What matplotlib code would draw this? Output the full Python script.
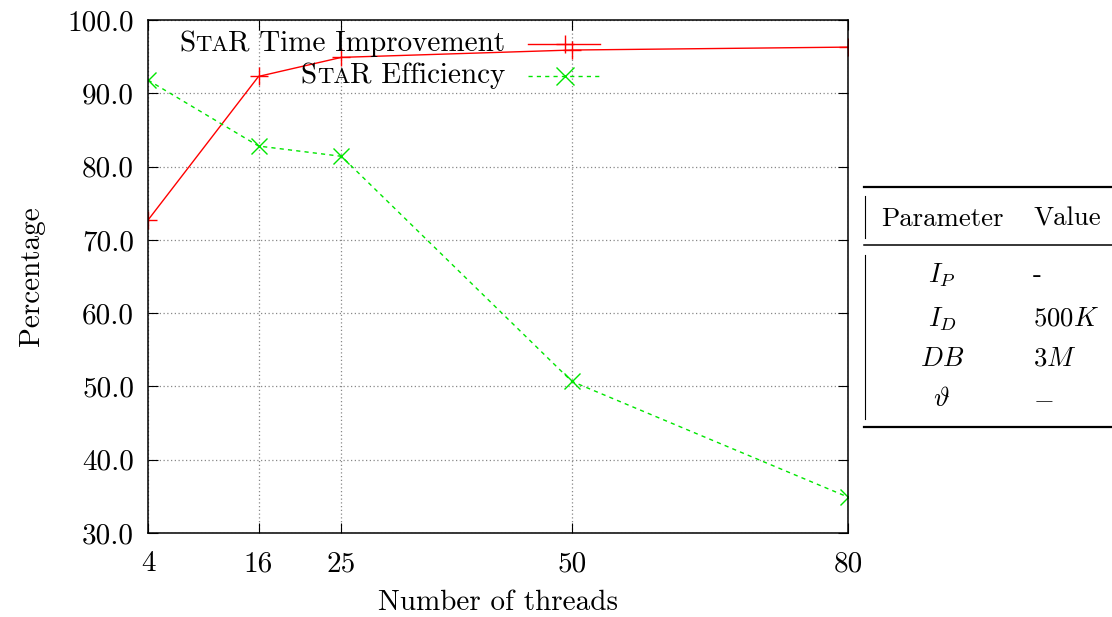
import matplotlib
matplotlib.use("Agg")
import matplotlib.pyplot as plt
from matplotlib.lines import Line2D
from matplotlib.offsetbox import TextArea, DrawingArea, HPacker, VPacker, AnchoredOffsetbox

plt.rcParams['font.family'] = ['cmr10', 'DejaVu Serif']
plt.rcParams['mathtext.fontset'] = 'cm'
plt.rcParams['axes.unicode_minus'] = False

threads = [4, 16, 25, 50, 80]
time_impr = [72.7, 92.3, 94.9, 95.9, 96.3]
efficiency = [91.8, 82.8, 81.4, 50.7, 34.9]

yticks = [30, 40, 50, 60, 70, 80, 90, 100]

params = ["$I_P$", "$I_D$", "$DB$", r"$\vartheta$"]
values = ["-", "$500K$", "$3M$", "$-$"]

red = "#ff0000"
green = "#00e600"
fs = 21
tfs = 19.3

fig = plt.figure(figsize=(11.12, 6.17), dpi=100)
ax = fig.add_axes([0.1331, 0.1361, 0.7626 - 0.1331, 0.9676 - 0.1361])

ax.plot(threads, time_impr, color=red, lw=1.0, marker="+", ms=13, mew=1.0)
ax.plot(threads, efficiency, color=green, lw=1.0, ls=(0, (3, 3)), marker="x", ms=11, mew=1.0)

ax.set_xlim(4, 80)
ax.set_ylim(30, 100)
ax.set_xticks(threads)
ax.set_xticklabels([str(t) for t in threads])
ax.set_yticks(yticks)
ax.set_yticklabels(["%.1f" % v for v in yticks])
ax.tick_params(direction="in", length=7, width=0.8, top=True, right=True,
               labelsize=fs)
ax.tick_params(axis="x", pad=13)
ax.tick_params(axis="y", pad=10)
ax.grid(True, color="#888888", ls=(0, (1, 2)), lw=0.9)
for s in ax.spines.values():
    s.set_linewidth(1.1)
ax.set_xlabel("Number of threads", fontsize=fs, labelpad=9)
ax.set_ylabel("Percentage", fontsize=fs, labelpad=16)


# legend with small-caps style "StaR"
def legend_row(rest, color, ls, marker):
    big = dict(size=fs)
    small = dict(size=fs * 0.78)
    txt = HPacker(children=[TextArea("S", textprops=big),
                            TextArea("TA", textprops=small),
                            TextArea("R " + rest, textprops=big)],
                  align="baseline", pad=0, sep=0)
    da = DrawingArea(52, 14, 0, 0)
    da.add_artist(Line2D([0, 52], [7, 7], color=color, lw=1.0, ls=ls))
    da.add_artist(Line2D([27], [7], color=color, marker=marker, ms=13, mew=1.0))
    return HPacker(children=[txt, da], align="center", pad=0, sep=16)


rows = VPacker(children=[legend_row("Time Improvement", red, "-", "+"),
                         legend_row("Efficiency", green, (0, (3, 3)), "x")],
               align="right", pad=0, sep=4)
leg = AnchoredOffsetbox(loc="upper right", child=rows, pad=0, borderpad=0,
                        frameon=False, bbox_to_anchor=(600 / 1112, 1 - 31 / 617),
                        bbox_transform=fig.transFigure)
ax.add_artist(leg)

# parameter table on the right
W, H = 1112, 617


def fx(px):
    return px / W


def fy(py):
    return 1 - py / H


def hline(y, x0, x1, lw):
    fig.add_artist(Line2D([fx(x0), fx(x1)], [fy(y), fy(y)], color="black", lw=lw,
                          transform=fig.transFigure))


def vline(x, y0, y1, lw):
    fig.add_artist(Line2D([fx(x), fx(x)], [fy(y0), fy(y1)], color="black", lw=lw,
                          transform=fig.transFigure))


hline(187, 864, 1112, 1.6)
hline(245, 864, 1112, 1.1)
hline(427, 864, 1112, 1.6)
vline(865, 196, 238, 0.8)
vline(865, 255, 419, 0.8)

fig.text(fx(942), fy(219), "Parameter", fontsize=tfs, ha="center", va="center")
fig.text(fx(1033), fy(219), "Value", fontsize=tfs, ha="left", va="center")
row_y = [275, 319, 359, 399]
for p, v, y in zip(params, values, row_y):
    fig.text(fx(942), fy(y), p, fontsize=tfs, ha="center", va="center")
    fig.text(fx(1033), fy(y), v, fontsize=tfs, ha="left", va="center")

fig.savefig("out.png", dpi=100)
